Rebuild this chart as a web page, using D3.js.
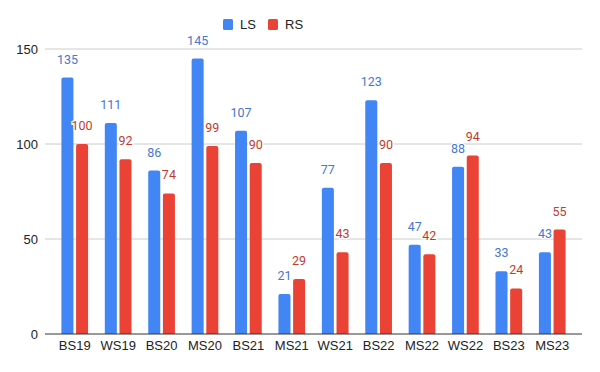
<!DOCTYPE html>
<html>
<head>
<meta charset="utf-8">
<script src="https://cdn.jsdelivr.net/npm/d3@7"></script>
<style>
  body { margin: 0; background: #fff; }
  text { font-family: Roboto, Arial, sans-serif; }
</style>
</head>
<body>
<div id="chart"></div>
<script>
// data
var terms = ["BS19", "WS19", "BS20", "MS20", "BS21", "MS21", "WS21", "BS22", "MS22", "WS22", "BS23", "MS23"];
var seriesNames = ["LS", "RS"];
var lsValues = [135, 111, 86, 145, 107, 21, 77, 123, 47, 88, 33, 43];
var rsValues = [100, 92, 74, 99, 90, 29, 43, 90, 42, 94, 24, 55];
var yTicks = [0, 50, 100, 150];

var colors = {LS: "#4285f4", RS: "#ea4335"};
var labelColors = {LS: "#4677cf", RS: "#bf3b2f"};
var axisFont = "'Liberation Sans', Arial, sans-serif";

var width = 600, height = 372;
// plot area edges (named to avoid window.top)
var plotLeft = 45, plotRight = 582, plotTop = 49, plotBottom = 334;

var svg = d3.select("#chart").append("svg")
    .attr("width", width)
    .attr("height", height);

var x = d3.scaleBand().domain(terms).range([plotLeft, plotRight])
    .paddingInner(0.385).paddingOuter(0.378);
var xs = d3.scaleBand().domain(seriesNames).range([0, x.bandwidth()]).paddingInner(0.18);
var y = d3.scaleLinear().domain([0, 150]).range([plotBottom, plotTop]);

// gridlines
svg.append("g").selectAll("line")
    .data(yTicks.filter(function(d) { return d > 0; }))
    .enter().append("line")
    .attr("x1", plotLeft).attr("x2", plotRight)
    .attr("y1", function(d) { return y(d); })
    .attr("y2", function(d) { return y(d); })
    .attr("stroke", "#cccccc").attr("stroke-width", 1);

// y axis labels
var yAxis = svg.append("g")
    .attr("transform", "translate(" + plotLeft + ",0)")
    .call(d3.axisLeft(y).tickValues(yTicks).tickSize(0).tickPadding(7));
yAxis.select(".domain").remove();
yAxis.selectAll("text")
    .style("font-size", "13px")
    .style("font-family", axisFont)
    .attr("fill", "#222");

var rows = terms.map(function(t, i) {
    return {term: t, LS: lsValues[i], RS: rsValues[i]};
});

// rounded-top bar path
function barPath(x0, w, yTop, yBase) {
    var r = Math.min(2, w / 2, (yBase - yTop) / 2);
    return "M" + x0 + "," + yBase +
        "V" + (yTop + r) +
        "Q" + x0 + "," + yTop + " " + (x0 + r) + "," + yTop +
        "H" + (x0 + w - r) +
        "Q" + (x0 + w) + "," + yTop + " " + (x0 + w) + "," + (yTop + r) +
        "V" + yBase + "Z";
}

var groups = svg.append("g").selectAll("g")
    .data(rows)
    .enter().append("g")
    .attr("transform", function(d) { return "translate(" + x(d.term) + ",0)"; });

groups.selectAll("path")
    .data(function(d) { return seriesNames.map(function(s) { return {key: s, value: d[s]}; }); })
    .enter().append("path")
    .attr("d", function(d) { return barPath(xs(d.key), xs.bandwidth(), y(d.value), y(0)); })
    .attr("fill", function(d) { return colors[d.key]; });

// value labels
groups.selectAll("text")
    .data(function(d) { return seriesNames.map(function(s) { return {key: s, value: d[s]}; }); })
    .enter().append("text")
    .attr("x", function(d) { return xs(d.key) + xs.bandwidth() / 2; })
    .attr("y", function(d) { return y(d.value) - 14; })
    .attr("text-anchor", "middle")
    .style("font-size", "12.5px")
    .attr("fill", function(d) { return labelColors[d.key]; })
    .attr("stroke", "#fff").attr("stroke-width", 2.5)
    .attr("paint-order", "stroke")
    .text(function(d) { return d.value; });

// baseline
svg.append("line")
    .attr("x1", plotLeft).attr("x2", plotRight)
    .attr("y1", y(0)).attr("y2", y(0))
    .attr("stroke", "#333").attr("stroke-width", 1);

// x axis labels
var xAxis = svg.append("g")
    .attr("transform", "translate(0," + plotBottom + ")")
    .call(d3.axisBottom(x).tickSize(0).tickPadding(7));
xAxis.select(".domain").remove();
xAxis.selectAll("text")
    .style("font-size", "13px")
    .style("font-family", axisFont)
    .attr("fill", "#222");

// legend
var legend = svg.append("g");
var legendX = [223, 268];
seriesNames.forEach(function(s, i) {
    legend.append("rect")
        .attr("x", legendX[i]).attr("y", 19)
        .attr("width", 10).attr("height", 11)
        .attr("rx", 1.5)
        .attr("fill", colors[s]);
    legend.append("text")
        .attr("x", legendX[i] + 17).attr("y", 29)
        .style("font-size", "13px")
        .style("font-family", axisFont)
        .attr("fill", "#222")
        .text(s);
});
</script>
</body>
</html>
